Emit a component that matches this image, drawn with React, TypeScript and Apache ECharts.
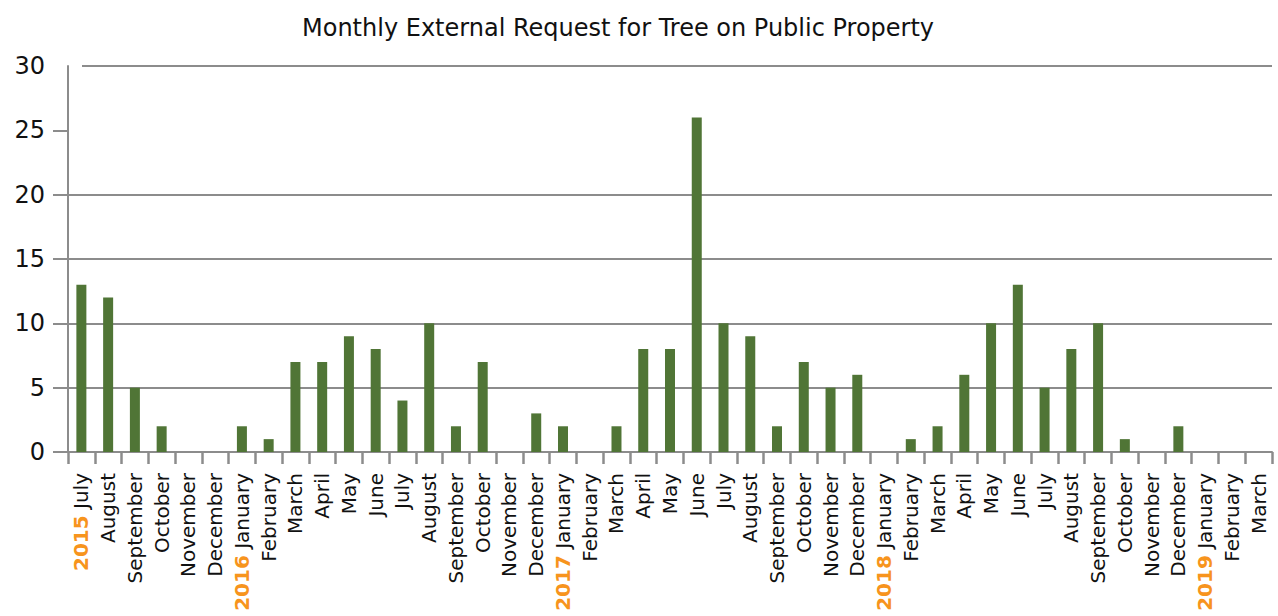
import React, { useEffect, useRef } from "react";
import * as echarts from "echarts";

const months = [
  "July", "August", "September", "October", "November", "December",
  "January", "February", "March", "April", "May", "June", "July", "August", "September", "October", "November", "December",
  "January", "February", "March", "April", "May", "June", "July", "August", "September", "October", "November", "December",
  "January", "February", "March", "April", "May", "June", "July", "August", "September", "October", "November", "December",
  "January", "February", "March",
];
const yearMarks: Record<number, string> = { 0: "2015", 6: "2016", 18: "2017", 30: "2018", 42: "2019" };
const requests = [
  13, 12, 5, 2, 0, 0,
  2, 1, 7, 7, 9, 8, 4, 10, 2, 7, 0, 3,
  2, 0, 2, 8, 8, 26, 10, 9, 2, 7, 5, 6,
  0, 1, 2, 6, 10, 13, 5, 8, 10, 1, 0, 2,
  0, 0, 0,
];
const yTicks = [0, 5, 10, 15, 20, 25, 30];

const FONT = "'DejaVu Sans', 'Noto Sans', sans-serif";
const GRAY = "#8c8c8c";

export default function App() {
  const ref = useRef<HTMLDivElement>(null);
  useEffect(() => {
    if (!ref.current) return;
    const chart = echarts.init(ref.current, null, { renderer: "svg" });
    const categories = months.map((m, i) =>
      yearMarks[i] !== undefined ? `{y|${yearMarks[i]}} ${m}` : m
    );
    const yMax = yTicks[yTicks.length - 1];
    chart.setOption({
      animation: false,
      backgroundColor: "#ffffff",
      title: {
        text: "Monthly External Request for Tree on Public Property",
        left: 297,
        top: 11,
        textStyle: { fontFamily: FONT, fontSize: 24, fontWeight: "normal", color: "#111" },
      },
      grid: { left: 68, right: 6, top: 66, bottom: 164, containLabel: false },
      xAxis: {
        type: "category",
        data: categories,
        boundaryGap: true,
        axisLine: { show: true, lineStyle: { color: GRAY, width: 2 } },
        axisTick: { show: true, length: 12, alignWithLabel: false, lineStyle: { color: GRAY, width: 2.5 } },
        axisLabel: {
          rotate: 90,
          interval: 0,
          margin: 21,
          fontFamily: FONT,
          fontSize: 20,
          color: "#111",
          rich: {
            y: { fontFamily: FONT, fontSize: 20, fontWeight: "bold", color: "#f7941d" },
          },
        },
      },
      yAxis: {
        type: "value",
        min: yTicks[0],
        max: yMax,
        interval: 5,
        axisLine: { show: true, lineStyle: { color: GRAY, width: 2 } },
        axisTick: { show: true, length: 15, customValues: yTicks.slice(0, -1), lineStyle: { color: GRAY, width: 2 } },
        axisLabel: { margin: 23, fontFamily: FONT, fontSize: 24, fontWeight: "normal", color: "#111" },
        splitLine: { show: true, showMaxLine: false, lineStyle: { color: GRAY, width: 2 } },
      },
      series: [
        {
          type: "bar",
          data: requests,
          barWidth: 10,
          itemStyle: { color: "#507536" },
        },
      ],
    });
    const yTop = chart.convertToPixel({ yAxisIndex: 0 }, yMax) as number;
    chart.setOption({
      graphic: [
        {
          type: "line",
          shape: { x1: 82, y1: yTop, x2: 1272, y2: yTop },
          style: { stroke: GRAY, lineWidth: 2 },
          silent: true,
        },
      ],
    });
    return () => chart.dispose();
  }, []);
  return (
    <div
      ref={ref}
      style={{ position: "fixed", left: 0, top: 0, width: 1278, height: 616, background: "#fff" }}
    />
  );
}
